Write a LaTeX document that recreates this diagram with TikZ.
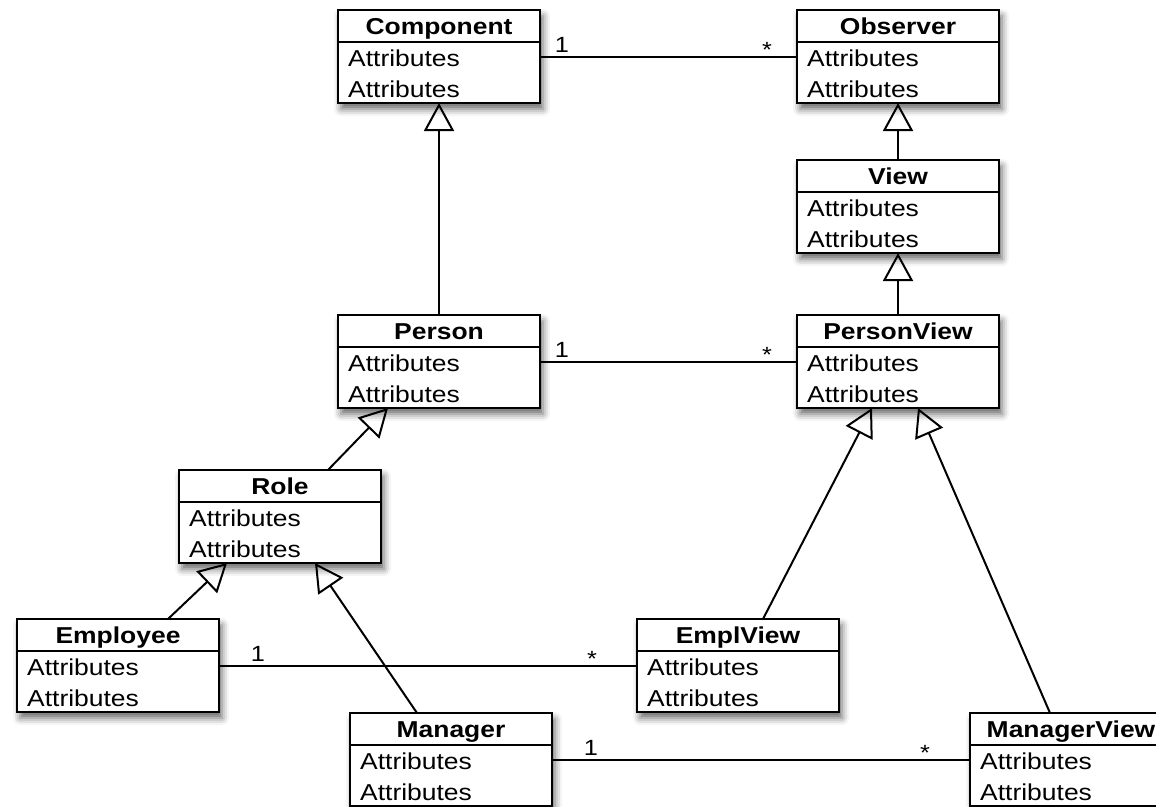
\documentclass[tikz,border=0pt]{standalone}
\usepackage{fontspec}
\setmainfont[FakeStretch=1.15]{Liberation Sans}
\usetikzlibrary{calc,arrows.meta,shadows.blur}

\pgfdeclarelayer{links}
\pgfsetlayers{links,main}

\tikzset{
  classbox/.style={draw, line width=1.9pt, fill=white, minimum width=202pt,
    minimum height=93pt, inner sep=0pt, outer sep=0pt, anchor=north west,
    blur shadow={shadow xshift=3pt, shadow yshift=-6pt, shadow blur radius=7pt,
      shadow opacity=60}},
  classtitle/.style={anchor=base, inner sep=0pt, font=\fontsize{23}{27}\selectfont\bfseries},
  classattr/.style={anchor=base west, inner sep=0pt, font=\fontsize{23}{27}\selectfont},
  divider/.style={line width=1.7pt},
  assoc/.style={line width=2pt},
  general/.style={line width=2pt, -{Triangle[open, length=28pt, width=30pt]}},
  mult/.style={anchor=base, inner sep=0pt, font=\fontsize{22}{26}\selectfont},
}

% one UML class: name, left x, top y, title
\newcommand\umlclass[4]{%
  \node[classbox] (#1) at (#2,-#3) {};
  \draw[divider] ($(#1.north west)+(0,-32)$) -- ($(#1.north east)+(0,-32)$);
  \node[classtitle] (#1-title) at ($(#1.north)+(0,-24)$) {#4};
  \node[classattr] (#1-attr1) at ($(#1.north west)+(10,-56)$) {Attributes};
  \node[classattr] (#1-attr2) at ($(#1.north west)+(10,-87)$) {Attributes};
}

\begin{document}
\begin{tikzpicture}[x=1pt, y=1pt]
  \useasboundingbox (0,0) rectangle (1156,-806);
  \clip (0,0) rectangle (1156,-806);

  \umlclass{component}{338}{10}{Component}
  \umlclass{observer}{797}{10}{Observer}
  \umlclass{view}{797}{160}{View}
  \umlclass{person}{338}{315}{Person}
  \umlclass{personview}{797}{315}{PersonView}
  \umlclass{role}{179}{470}{Role}
  \umlclass{employee}{17}{619}{Employee}
  \umlclass{emplview}{637}{619}{EmplView}
  \umlclass{manager}{350}{713}{Manager}
  \umlclass{managerview}{970}{713}{ManagerView}

  \begin{pgfonlayer}{links}
    % associations with multiplicities
    \draw[assoc] (component.east) -- (observer.west);
    \draw[assoc] (person.east) -- (personview.west);
    \draw[assoc] (employee.east) -- (emplview.west);
    \draw[assoc] (manager.east) -- (managerview.west);

    % generalizations
    \draw[general] (view.north) -- (observer.south);
    \draw[general] (personview.north) -- (view.south);
    \draw[general] (person.north) -- (component.south);
    \draw[general] ($(role.north west)+(149,0)$) -- ($(person.south west)+(50,0)$);
    \draw[general] ($(employee.north west)+(151,0)$) -- ($(role.south west)+(48,0)$);
    \draw[general] ($(manager.north west)+(67,0)$) -- ($(role.south west)+(136,0)$);
    \draw[general] ($(emplview.north west)+(126,0)$) -- ($(personview.south west)+(75,0)$);
    \draw[general] ($(managerview.north west)+(80,0)$) -- ($(personview.south west)+(121,0)$);
  \end{pgfonlayer}

  \node[mult] (m-co-1) at ($(component.east)+(22,4)$) {1};
  \node[mult] (m-co-n) at ($(observer.west)+(-30,-1)$) {*};
  \node[mult] (m-pp-1) at ($(person.east)+(22,4)$) {1};
  \node[mult] (m-pp-n) at ($(personview.west)+(-30,-1)$) {*};
  \node[mult] (m-ee-1) at ($(employee.east)+(39,4)$) {1};
  \node[mult] (m-ee-n) at ($(emplview.west)+(-45,-1)$) {*};
  \node[mult] (m-mm-1) at ($(manager.east)+(39,4)$) {1};
  \node[mult] (m-mm-n) at ($(managerview.west)+(-45,-1)$) {*};
\end{tikzpicture}
\end{document}
